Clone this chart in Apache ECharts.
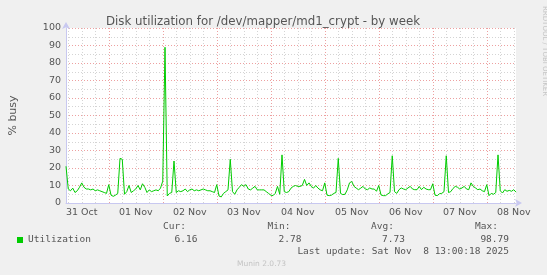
<!DOCTYPE html>
<html>
<head>
<meta charset="utf-8">
<script src="https://cdn.jsdelivr.net/npm/echarts@6/dist/echarts.min.js"></script>
<style>html,body{margin:0;padding:0;background:#f0f0f0;}#c{width:547px;height:275px;}</style>
</head>
<body>
<div id="c"></div>
<script>
// Day tick labels (shown at noon of each day)
const dayLabels = ['31 Oct','01 Nov','02 Nov','03 Nov','04 Nov','05 Nov','06 Nov','07 Nov','08 Nov'];
const startHourOfDay = 5; // first sample: 31 Oct 05:00, hourly samples to 08 Nov 13:00
// Utilization (% busy), hourly
const utilization = [
 21, 8, 7, 8.5, 6, 7, 9, 11.5, 9, 8,
 8, 7.5, 8, 7, 7.5, 7, 6.5, 6, 5.5, 10.5,
 4.5, 3.8, 4.5, 5.5, 25.5, 25, 5, 6.5, 10, 6,
 7, 8, 10, 7.5, 11, 9, 6, 7.5, 6.5, 7,
 7.5, 7, 8.5, 12.5, 89, 4, 5.5, 6, 24, 6,
 7, 6.5, 7, 8, 6.5, 7.5, 8, 7, 7.5, 7,
 7.5, 8, 7.5, 7, 7, 6.5, 6, 10.5, 4, 3.5,
 5.5, 6.5, 7.5, 25, 6.5, 5, 7.5, 9, 10.5, 9.5,
 10.5, 8, 7.5, 8.5, 9.5, 7.5, 7.5, 7.5, 7.5, 6.5,
 5.5, 4.5, 4.2, 5.5, 9.5, 5, 27.5, 6.5, 6, 6.5,
 8.5, 9.5, 10, 9.5, 9.5, 10, 13.5, 10, 11.5, 9.5,
 8.5, 10, 8.5, 7.5, 7, 11.5, 4.5, 4.2, 4.5, 5.5,
 6, 25.5, 5.5, 4.8, 5, 7.5, 11.5, 12.3, 9.5, 8.5,
 7.6, 8.5, 9.5, 8, 7.6, 8.6, 8, 8, 6.7, 10,
 4.6, 4.2, 4.2, 5.2, 6, 27, 6.5, 5.5, 7.6, 8.6,
 8, 7.6, 8.6, 9.5, 8, 7.6, 7.6, 9.5, 7.6, 9,
 8, 7.6, 7.6, 11, 4.5, 4.2, 5.3, 5.5, 6.5, 27,
 6, 6.5, 8.3, 9.5, 9, 8, 8.6, 9.5, 8, 7.6,
 11.5, 9.5, 8.6, 7.6, 8, 7, 6.5, 10.5, 4.2, 5.5,
 5, 6, 27.5, 7, 5.7, 7.6, 6.7, 7.2, 6.7, 7.6,
 6.2
];
const statNames = ['Cur:','Min:','Avg:','Max:'];
const statValues = ['6.16','2.78','7.73','98.79'];
const lastUpdate = 'Last update: Sat Nov  8 13:00:18 2025';

const categories = [];
for (let i = 0; i < utilization.length; i++) {
  const abs = startHourOfDay + i;
  const h = abs % 24;
  categories.push(dayLabels[Math.floor(abs / 24)] + ' ' + (h < 10 ? '0' : '') + h + ':00');
}
const hourOf = v => parseInt(v.slice(7, 9), 10);

const FONT = 'DejaVu Sans';
const MONO = 'DejaVu Sans Mono';
const TXT = '#555555';
const MONOCOL = '#555555';

const chart = echarts.init(document.getElementById('c'), null, {renderer: 'canvas'});

const statX = [163, 267.5, 371, 475];
const valRight = [197.5, 301.5, 405, 509];
const graphics = [];
statNames.forEach((n, i) => {
  graphics.push({type: 'text', left: statX[i], top: 222, silent: true,
    style: {text: n, font: '9.5px "' + MONO + '"', fill: MONOCOL}});
  graphics.push({type: 'text', right: 547 - valRight[i], top: 234.5, silent: true,
    style: {text: statValues[i], font: '9.5px "' + MONO + '"', fill: MONOCOL}});
});
graphics.push({type: 'text', right: 38, top: 246.5, silent: true,
  style: {text: lastUpdate, font: '9.5px "' + MONO + '"', fill: MONOCOL}});
graphics.push({type: 'text', left: 237, top: 260, silent: true,
  style: {text: 'Munin 2.0.73', font: '7.5px "' + FONT + '"', fill: '#c4c4c4'}});
graphics.push({type: 'text', left: 541, top: 6, rotation: -Math.PI / 2, silent: true,
  style: {text: 'RRDTOOL / TOBI OETIKER', font: '7px "' + FONT + '"', fill: '#c4c4c4'}});

chart.setOption({
  backgroundColor: '#f0f0f0',
  animation: false,
  title: {
    text: 'Disk utilization for /dev/mapper/md1_crypt - by week',
    left: 101, top: 11,
    textStyle: {fontFamily: FONT, fontSize: 11.8, fontWeight: 'normal', color: '#555555'}
  },
  legend: {
    left: 12, top: 230,
    itemWidth: 6, itemHeight: 6, itemGap: 5,
    icon: 'rect',
    data: ['Utilization'],
    textStyle: {fontFamily: MONO, fontSize: 9.5, color: MONOCOL, padding: [0, 0, 0, 0]}
  },
  grid: {left: 66, right: 31, top: 28, bottom: 72, show: true, backgroundColor: '#ffffff', borderWidth: 0},
  xAxis: [{
    type: 'category',
    data: categories,
    boundaryGap: false,
    position: 'bottom',
    axisLine: {show: true, lineStyle: {color: '#c8c8f0', width: 1}, symbol: ['none', 'arrow'], symbolSize: [6, 7], symbolOffset: [0, 6]},
    axisTick: {show: false},
    axisLabel: {
      interval: (i, v) => hourOf(v) === 12,
      formatter: v => v.slice(0, 6),
      fontFamily: FONT, fontSize: 9.5, color: TXT, margin: 5
    },
    splitLine: {show: true, interval: (i, v) => hourOf(v) % 6 === 0 && hourOf(v) !== 0,
      lineStyle: {color: '#d4d4d4', type: [1, 2], width: 1}}
  }, {
    type: 'category',
    data: categories,
    boundaryGap: false,
    position: 'bottom',
    axisLine: {show: false}, axisTick: {show: false}, axisLabel: {show: false},
    splitLine: {show: true, interval: (i, v) => hourOf(v) === 0,
      lineStyle: {color: '#eda0a0', type: [1, 2], width: 1}}
  }],
  yAxis: {
    type: 'value', min: 0, max: 100, interval: 10,
    name: '% busy', nameLocation: 'middle', nameGap: 47, nameRotate: 90,
    nameTextStyle: {fontFamily: FONT, fontSize: 11, color: TXT},
    axisLine: {show: true, lineStyle: {color: '#c8c8f0', width: 1}, symbol: ['none', 'arrow'], symbolSize: [6, 7], symbolOffset: [0, 6]},
    axisTick: {show: false},
    axisLabel: {fontFamily: FONT, fontSize: 9.5, color: TXT, margin: 5},
    splitLine: {show: true, lineStyle: {color: '#eda0a0', type: [1, 2], width: 1}},
    minorTick: {show: false, splitNumber: 2},
    minorSplitLine: {show: true, lineStyle: {color: '#d4d4d4', type: [1, 2], width: 1}}
  },
  series: [{
    name: 'Utilization',
    type: 'line',
    xAxisIndex: 0,
    data: utilization,
    showSymbol: false,
    symbol: 'none',
    color: '#00cc00',
    lineStyle: {color: '#00cc00', width: 1},
    z: 5
  }],
  graphic: graphics
});
</script>
</body>
</html>
